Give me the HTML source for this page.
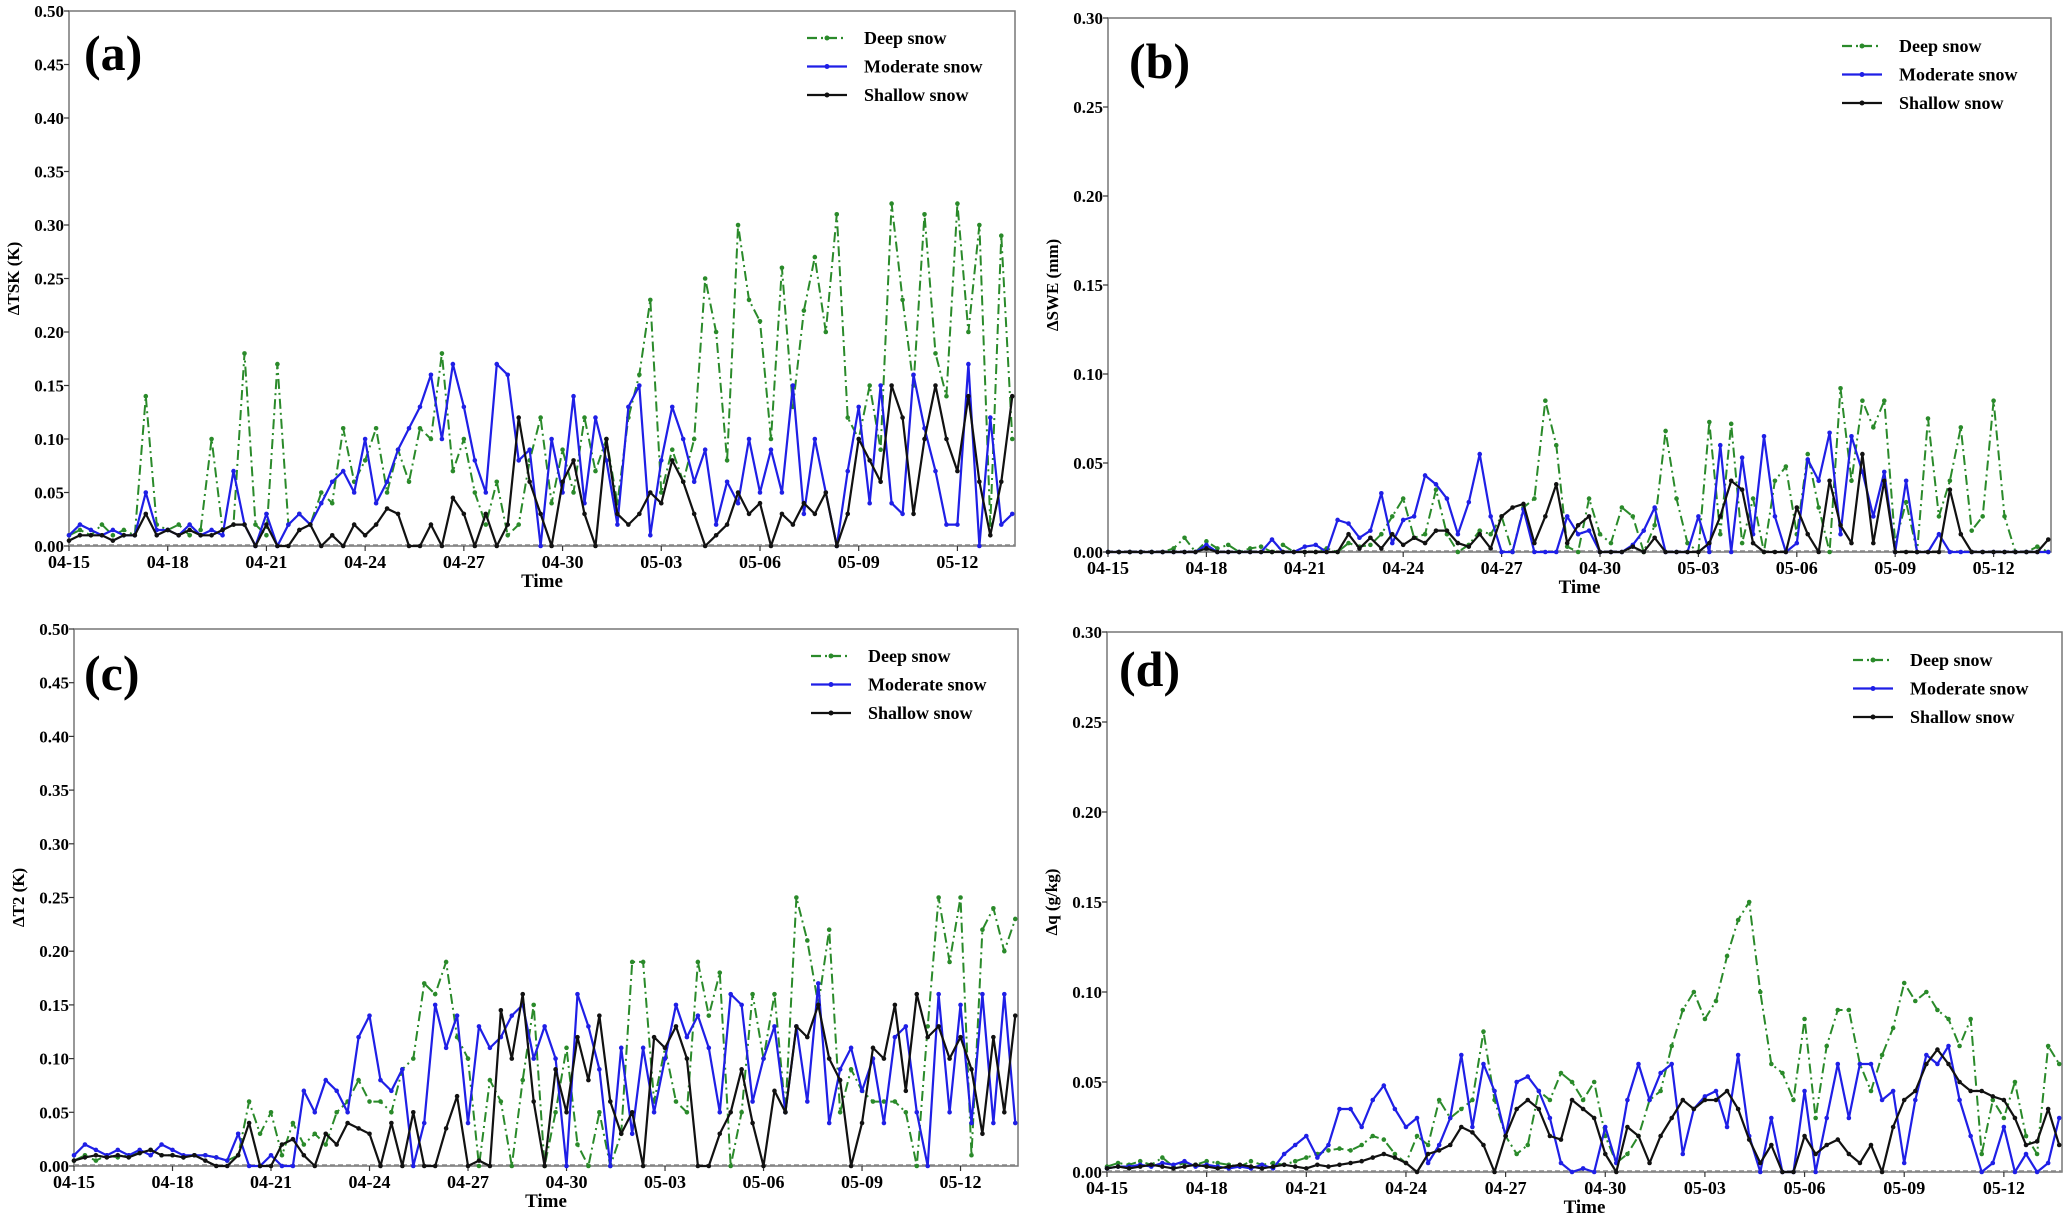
<!DOCTYPE html>
<html><head><meta charset="utf-8"><style>
body{margin:0;background:#fff;}
svg{display:block;font-family:"Liberation Serif",serif;font-weight:bold;}
</style></head><body>
<svg id="fig" width="2067" height="1220" viewBox="0 0 2067 1220"></svg>
<script>
const tickLabels=["04-15","04-18","04-21","04-24","04-27","04-30","05-03","05-06","05-09","05-12"];
const seriesNames=["Deep snow","Moderate snow","Shallow snow"];
const aDeep=[.01,.015,.01,.02,.01,.015,.01,.14,.02,.015,.02,.01,.015,.10,.015,.02,.18,.02,.01,.17,.02,.03,.02,.05,.04,.11,.06,.08,.11,.05,.09,.06,.11,.10,.18,.07,.10,.05,.02,.06,.01,.02,.08,.12,.04,.09,.05,.12,.07,.10,.04,.12,.16,.23,.05,.09,.06,.10,.25,.20,.08,.30,.23,.21,.10,.26,.13,.22,.27,.20,.31,.12,.10,.15,.09,.32,.23,.15,.31,.18,.14,.32,.20,.30,.02,.29,.10];
const aMod=[.01,.02,.015,.01,.015,.01,.01,.05,.015,.015,.01,.02,.01,.015,.01,.07,.02,0,.03,0,.02,.03,.02,.04,.06,.07,.05,.10,.04,.06,.09,.11,.13,.16,.10,.17,.13,.08,.05,.17,.16,.08,.09,0,.10,.05,.14,.04,.12,.08,.02,.13,.15,.01,.08,.13,.10,.06,.09,.02,.06,.04,.10,.05,.09,.05,.15,.03,.10,.05,0,.07,.13,.04,.15,.04,.03,.16,.11,.07,.02,.02,.17,0,.12,.02,.03];
const aShal=[.005,.01,.01,.01,.005,.01,.01,.03,.01,.015,.01,.015,.01,.01,.015,.02,.02,0,.02,0,0,.015,.02,0,.01,0,.02,.01,.02,.035,.03,0,0,.02,0,.045,.03,0,.03,0,.02,.12,.06,.03,0,.06,.08,.03,0,.10,.03,.02,.03,.05,.04,.08,.06,.03,0,.01,.02,.05,.03,.04,0,.03,.02,.04,.03,.05,0,.03,.10,.08,.06,.15,.12,.03,.10,.15,.10,.07,.14,.06,.01,.06,.14];
const bDeep=[0,0,0,0,0,0,.002,.008,0,.006,.002,.004,0,.002,.003,0,.004,0,0,0,.002,0,.005,.003,.004,.01,.02,.03,.008,.01,.035,.01,0,.004,.012,.01,.02,0,.025,.03,.085,.06,.003,0,.03,.01,.005,.025,.02,0,.015,.068,.03,.005,0,.073,.01,.072,.005,.03,0,.04,.048,.01,.055,.025,0,.092,.04,.085,.07,.085,.005,.028,0,.075,.02,.04,.07,.012,.02,.085,.02,0,0,.003,0];
const bMod=[0,0,0,0,0,0,0,0,0,.004,0,0,0,0,0,.007,0,0,.003,.004,0,.018,.016,.008,.012,.033,.005,.018,.02,.043,.038,.03,.01,.028,.055,.02,0,0,.024,0,0,0,.02,.01,.012,0,0,0,.004,.012,.025,0,0,0,.02,0,.06,0,.053,.01,.065,.02,0,.005,.052,.04,.067,.01,.065,.045,.02,.045,0,.04,0,0,.01,0,0,0,0,0,0,0,0,0,0];
const bShal=[0,0,0,0,0,0,0,0,0,.002,0,0,0,0,0,0,0,0,0,0,0,0,.01,.002,.008,.002,.01,.004,.008,.005,.012,.012,.005,.003,.01,.002,.02,.025,.027,.005,.02,.038,.005,.015,.02,0,0,0,.003,0,.008,0,0,0,0,.005,.02,.04,.035,.005,0,0,0,.025,.01,0,.04,.015,.005,.055,.005,.04,0,0,0,0,0,.035,.01,0,0,0,0,0,0,0,.007];
const cDeep=[.005,.01,.005,.01,.008,.01,.012,.015,.01,.01,.008,.01,.01,.008,.005,.01,.06,.03,.05,.01,.04,.02,.03,.02,.05,.06,.08,.06,.06,.05,.09,.10,.17,.16,.19,.12,.10,0,.08,.06,0,.08,.15,0,.05,.11,.02,0,.05,0,.03,.19,.19,.06,.11,.06,.05,.19,.14,.18,0,.05,.16,.10,.16,.05,.25,.21,.15,.22,.05,.09,.07,.06,.06,.06,.05,0,.13,.25,.19,.25,.01,.22,.24,.20,.23];
const cMod=[.01,.02,.015,.01,.015,.01,.015,.01,.02,.015,.01,.01,.01,.008,.005,.03,0,0,.01,0,0,.07,.05,.08,.07,.05,.12,.14,.08,.07,.09,0,.04,.15,.11,.14,.04,.13,.11,.12,.14,.15,.10,.13,.10,0,.16,.13,.09,0,.11,.03,.11,.05,.10,.15,.12,.14,.11,.05,.16,.15,.06,.10,.13,.05,.13,.06,.17,.04,.09,.11,.07,.10,.04,.12,.13,.05,0,.16,.05,.15,.04,.16,.04,.16,.04];
const cShal=[.005,.008,.01,.008,.01,.008,.012,.015,.01,.01,.008,.01,.005,0,0,.01,.04,0,0,.02,.025,.01,0,.03,.02,.04,.035,.03,0,.04,0,.05,0,0,.035,.065,0,.005,0,.145,.10,.16,.06,0,.09,.05,.12,.08,.14,.06,.03,.05,0,.12,.11,.13,.10,0,0,.03,.05,.09,.04,0,.07,.05,.13,.12,.15,.10,.08,0,.04,.11,.10,.15,.07,.16,.12,.13,.10,.12,.09,.03,.12,.05,.14];
const dDeep=[.003,.005,.004,.006,.004,.008,.003,.005,.004,.006,.005,.004,.003,.006,.004,.005,.004,.006,.008,.01,.012,.013,.012,.015,.02,.018,.01,.005,.02,.015,.04,.03,.035,.04,.078,.04,.02,.01,.015,.045,.04,.055,.05,.04,.05,.02,.005,.01,.02,.04,.045,.07,.09,.10,.085,.095,.12,.14,.15,.10,.06,.055,.04,.085,.03,.07,.09,.09,.06,.045,.065,.08,.105,.095,.10,.09,.085,.07,.085,.01,.04,.03,.05,.02,.01,.07,.06];
const dMod=[.002,.003,.003,.004,.003,.005,.004,.006,.003,.004,.003,.002,.003,.002,.004,.002,.01,.015,.02,.008,.015,.035,.035,.025,.04,.048,.035,.025,.03,.005,.015,.03,.065,.025,.06,.045,.02,.05,.053,.045,.03,.005,0,.002,0,.025,.005,.04,.06,.04,.055,.06,.01,.035,.042,.045,.025,.065,.02,0,.03,0,0,.045,0,.03,.06,.03,.06,.06,.04,.045,.005,.04,.065,.06,.07,.04,.02,0,.005,.025,0,.01,0,.005,.03];
const dShal=[.002,.003,.002,.003,.004,.003,.002,.003,.004,.003,.002,.003,.004,.003,.002,.003,.004,.003,.002,.004,.003,.004,.005,.006,.008,.01,.008,.005,0,.01,.012,.015,.025,.022,.015,0,.02,.035,.04,.035,.02,.018,.04,.035,.03,.01,0,.025,.02,.005,.02,.03,.04,.035,.04,.04,.045,.035,.018,.005,.015,0,0,.02,.01,.015,.018,.01,.005,.015,0,.025,.04,.045,.06,.068,.06,.05,.045,.045,.042,.04,.03,.015,.017,.035,.015];

const NS="http://www.w3.org/2000/svg";
const svg=document.getElementById('fig');
const colors=["#2a8a2a","#1f1fe6","#111"];
const dashes=["10,4,2,4","",""];
function mk(tag,attrs,parent){const e=document.createElementNS(NS,tag);for(const k in attrs)e.setAttribute(k,attrs[k]);(parent||svg).appendChild(e);return e;}

function panel(p){
  const g=mk('g',{});
  
  
  const xmax=28.75;
  const xs=d=>p.x0+(d/xmax)*(p.x1-p.x0);
  const ys=v=>p.y1-(v/p.ymax)*(p.y1-p.y0);
  const frame=mk('rect',{x:p.x0,y:p.y0,width:p.x1-p.x0,height:p.y1-p.y0,fill:'none',stroke:'#777','stroke-width':1.5},g);
  
  
  // y ticks
  const nt=Math.round(p.ymax/0.05);
  for(let i=0;i<=nt;i++){
    const v=i*0.05,y=ys(v);
    mk('line',{x1:p.x0-5,x2:p.x0,y1:y,y2:y,stroke:'#333','stroke-width':1.2},g);
    const t=mk('text',{x:p.x0-5,y:y+6,'text-anchor':'end','font-size':17},g);
    t.textContent=v.toFixed(2);
    
    
  }
  tickLabels.forEach((lab,i)=>{
    const x=xs(i*3);
    mk('line',{x1:x,x2:x,y1:p.y1,y2:p.y1+5,stroke:'#333','stroke-width':1.2},g);
    const t=mk('text',{x:x,y:p.y1+22,'text-anchor':'middle','font-size':18},g);
    t.textContent=lab;
    
    
  });
  const xt=mk('text',{x:(p.x0+p.x1)/2,y:p.y1+41,'text-anchor':'middle','font-size':19},g);
  xt.textContent='Time';
  
  
  const cy=(p.y0+p.y1)/2;
  const yt=mk('text',{x:0,y:0,'text-anchor':'middle','font-size':17,transform:`translate(${p.x0-50},${cy}) rotate(-90)`},g);
  yt.textContent=p.ylabel;
  
  
  mk('line',{x1:p.x0,x2:p.x1,y1:p.y1-1,y2:p.y1-1,stroke:'#888','stroke-width':1.5,'stroke-dasharray':'5,3'},g);
  const pl=mk('text',{x:p.lx,y:p.ly,'font-size':50},g);
  pl.textContent=p.label;
  
  
  // series
  p.series.forEach((arr,si)=>{
    const pts=arr.map((v,i)=>xs(i/3).toFixed(1)+','+ys(v).toFixed(1)).join(' ');
    const line=mk('polyline',{points:pts,fill:'none',stroke:colors[si],'stroke-width':si==0?2:2.2,'stroke-dasharray':dashes[si],'stroke-linejoin':'round'},g);
    
    
    arr.forEach((v,i)=>{
      const c=mk('circle',{cx:xs(i/3),cy:ys(v),r:2.3,fill:colors[si]},g);
      
      
    });
  });
  // legend
  seriesNames.forEach((n,si)=>{
    const y=p.legY+si*28.5;
    const l=mk('line',{x1:p.legX,x2:p.legX+40,y1:y,y2:y,stroke:colors[si],'stroke-width':2.2,'stroke-dasharray':dashes[si]},g);
    
    
    mk('circle',{cx:p.legX+20,cy:y,r:2.5,fill:colors[si]},g);
    const t=mk('text',{x:p.legX+57,y:y+6,'font-size':18},g);
    t.textContent=n;
    
    
  });
}
panel({id:'a',x0:69,x1:1015,y0:11,y1:546,ymax:0.5,ylabel:'ΔTSK (K)',label:'(a)',lx:84,ly:70,legX:807,legY:38,series:[aDeep,aMod,aShal]});
panel({id:'b',x0:1108,x1:2051,y0:18,y1:552,ymax:0.3,ylabel:'ΔSWE (mm)',label:'(b)',lx:1129,ly:78,legX:1842,legY:46,series:[bDeep,bMod,bShal]});
panel({id:'c',x0:74,x1:1018,y0:629,y1:1166,ymax:0.5,ylabel:'ΔT2 (K)',label:'(c)',lx:84,ly:690,legX:811,legY:656,series:[cDeep,cMod,cShal]});
panel({id:'d',x0:1107,x1:2062,y0:632,y1:1172,ymax:0.3,ylabel:'Δq (g/kg)',label:'(d)',lx:1119,ly:686,legX:1853,legY:660,series:[dDeep,dMod,dShal]});
</script>
</body></html>
